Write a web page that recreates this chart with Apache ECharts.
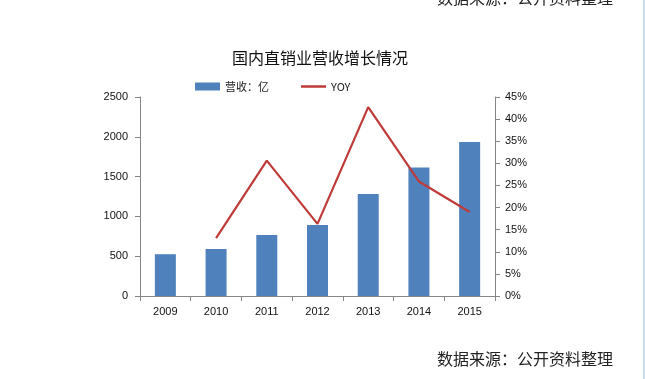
<!DOCTYPE html>
<html>
<head>
<meta charset="utf-8">
<script src="https://cdn.jsdelivr.net/npm/echarts@6/dist/echarts.min.js"></script>
<style>html,body{margin:0;padding:0;background:#fff;}#c{width:645px;height:379px;}</style>
</head>
<body>
<div id="c"></div>
<script>
const years = ['2009','2010','2011','2012','2013','2014','2015'];
const revenue = [525, 591, 767, 893, 1280, 1614, 1934];
const yoy = [null, 13.1, 30.6, 16.3, 42.7, 25.9, 19.0];
const leftTicks = [0, 500, 1000, 1500, 2000, 2500];
const rightTicks = [0, 5, 10, 15, 20, 25, 30, 35, 40, 45];

const font = '"Noto Sans CJK SC", "DejaVu Sans", sans-serif';
const numFont = '"Liberation Sans", Arial, sans-serif';
const chart = echarts.init(document.getElementById('c'));
chart.setOption({
  animation: false,
  textStyle: { fontFamily: font },
  title: {
    text: '国内直销业营收增长情况',
    left: 315, top: 45, textAlign: 'center',
    textStyle: { fontSize: 16, fontWeight: 'normal', color: '#111', fontFamily: font }
  },
  legend: {
    left: 190, top: 76, itemGap: 32, itemWidth: 25, itemHeight: 8,
    textStyle: { fontSize: 11, color: '#222', fontFamily: font },
    data: [
      { name: '营收：亿', icon: 'rect' },
      { name: 'YOY', icon: 'path://M0,0 L10,0 L10,1 L0,1 Z' }
    ]
  },
  grid: { left: 140, right: 150, top: 97, bottom: 83 },
  xAxis: {
    type: 'category', data: years,
    axisLine: { lineStyle: { color: '#868686' } },
    axisTick: { show: true, alignWithLabel: false, lineStyle: { color: '#868686' } },
    axisLabel: { fontSize: 11, color: '#111', margin: 10, fontFamily: numFont }
  },
  yAxis: [
    {
      type: 'value', min: 0, max: 2500, interval: 500,
      axisLine: { show: true, lineStyle: { color: '#868686' } },
      axisTick: { show: true, lineStyle: { color: '#868686' } },
      splitLine: { show: false },
      axisLabel: { fontSize: 11, color: '#111', margin: 12, fontFamily: numFont,
        formatter: function (v) { return String(v); } }
    },
    {
      type: 'value', min: 0, max: 45, interval: 5, position: 'right',
      axisLine: { show: true, lineStyle: { color: '#868686' } },
      axisTick: { show: true, lineStyle: { color: '#868686' } },
      splitLine: { show: false },
      axisLabel: { fontSize: 11, color: '#111', margin: 10, formatter: '{value}%', fontFamily: numFont }
    }
  ],
  series: [
    {
      name: '营收：亿', type: 'bar', data: revenue, barWidth: 21,
      itemStyle: { color: '#4F81BD' }
    },
    {
      name: 'YOY', type: 'line', yAxisIndex: 1, data: yoy,
      symbol: 'none', lineStyle: { color: '#BE3B39', width: 2.2 },
      itemStyle: { color: '#BE3B39' }
    }
  ],
  graphic: [
    { type: 'text', left: 437, top: -10, style: { text: '数据来源：公开资料整理', fontSize: 16, fill: '#222', fontFamily: font } },
    { type: 'text', left: 437, top: 351, style: { text: '数据来源：公开资料整理', fontSize: 16, fill: '#222', fontFamily: font } },
    { type: 'rect', shape: { x: 643, y: 0, width: 2, height: 379 }, style: { fill: '#C9DDF0' } }
  ]
});
</script>
</body>
</html>
